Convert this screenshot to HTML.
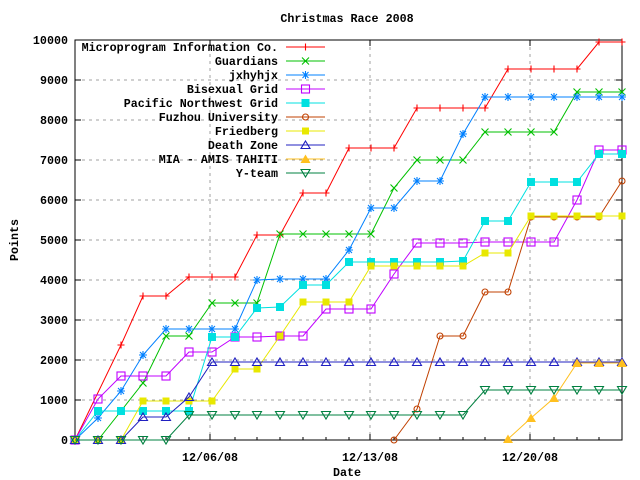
<!DOCTYPE html>
<html><head><meta charset="utf-8"><style>
html,body{margin:0;padding:0;background:#fff;}
svg{display:block;}
text{font-family:"Liberation Mono",monospace;font-size:11.7px;font-weight:bold;fill:#000;}
</style></head><body>
<svg width="640" height="480" viewBox="0 0 640 480" xmlns="http://www.w3.org/2000/svg">
<defs>
<marker id="mR" markerUnits="userSpaceOnUse" markerWidth="12" markerHeight="12" refX="6" refY="6" overflow="visible"><path d="M2.5,6H9.5M6,2.5V9.5" stroke="#ff0000" stroke-width="1.1" fill="none"/></marker>
<marker id="mG" markerUnits="userSpaceOnUse" markerWidth="12" markerHeight="12" refX="6" refY="6" overflow="visible"><path d="M2.5,2.5L9.5,9.5M2.5,9.5L9.5,2.5" stroke="#00c000" stroke-width="1.1" fill="none"/></marker>
<marker id="mB" markerUnits="userSpaceOnUse" markerWidth="12" markerHeight="12" refX="6" refY="6" overflow="visible"><path d="M2,6H10M6,2V10M3,3L9,9M3,9L9,3" stroke="#0080ff" stroke-width="1.1" fill="none"/></marker>
<marker id="mP" markerUnits="userSpaceOnUse" markerWidth="12" markerHeight="12" refX="6" refY="6" overflow="visible"><rect x="2" y="2" width="8" height="8" stroke="#c000ff" stroke-width="1.1" fill="none"/></marker>
<marker id="mC" markerUnits="userSpaceOnUse" markerWidth="12" markerHeight="12" refX="6" refY="6" overflow="visible"><rect x="2" y="2" width="8" height="8" fill="#00e0e0"/></marker>
<marker id="mO" markerUnits="userSpaceOnUse" markerWidth="12" markerHeight="12" refX="6" refY="6" overflow="visible"><circle cx="6" cy="6" r="3" stroke="#c04000" stroke-width="1.1" fill="none"/></marker>
<marker id="mY" markerUnits="userSpaceOnUse" markerWidth="12" markerHeight="12" refX="6" refY="6" overflow="visible"><rect x="2.5" y="2.5" width="7" height="7" fill="#e8e800"/></marker>
<marker id="mD" markerUnits="userSpaceOnUse" markerWidth="12" markerHeight="12" refX="6" refY="6" overflow="visible"><path d="M6,2L10.5,9.5H1.5Z" stroke="#2020c0" stroke-width="1.1" fill="none"/></marker>
<marker id="mA" markerUnits="userSpaceOnUse" markerWidth="12" markerHeight="12" refX="6" refY="6" overflow="visible"><path d="M6,1.5L11,10H1Z" fill="#ffc020"/></marker>
<marker id="mT" markerUnits="userSpaceOnUse" markerWidth="12" markerHeight="12" refX="6" refY="6" overflow="visible"><path d="M1.5,2.5H10.5L6,10Z" stroke="#008040" stroke-width="1.1" fill="none"/></marker>
</defs>

<g stroke="#a0a0a0" stroke-width="1" stroke-dasharray="3,4" fill="none">
<path d="M75,400H622M75,360H622M75,320H622M75,280H622M75,240H622M75,200H622M75,160H622M75,120H622M75,80H622"/>
<path d="M210,40V440M370,40V440M530,40V440"/>
</g>
<rect x="75" y="40" width="547" height="400" fill="none" stroke="#000" stroke-width="1"/>
<g stroke="#000" stroke-width="1">
<path d="M75,440h6M75,400h6M75,360h6M75,320h6M75,280h6M75,240h6M75,200h6M75,160h6M75,120h6M75,80h6M75,40h6"/>
<path d="M622,440h-6M622,400h-6M622,360h-6M622,320h-6M622,280h-6M622,240h-6M622,200h-6M622,160h-6M622,120h-6M622,80h-6M622,40h-6"/>
<path d="M210,440v-6M370,440v-6M530,440v-6M210,40v6M370,40v6M530,40v6"/>
<path d="M98,440v-3M121,440v-3M143,440v-3M166,440v-3M189,440v-3M235,440v-3M257,440v-3M280,440v-3M303,440v-3M326,440v-3M349,440v-3M394,440v-3M417,440v-3M440,440v-3M463,440v-3M485,440v-3M508,440v-3M554,440v-3M577,440v-3M599,440v-3"/>
</g>
<g text-anchor="end">
<text x="68" y="444">0</text><text x="68" y="404">1000</text><text x="68" y="364">2000</text><text x="68" y="324">3000</text><text x="68" y="284">4000</text><text x="68" y="244">5000</text><text x="68" y="204">6000</text><text x="68" y="164">7000</text><text x="68" y="124">8000</text><text x="68" y="84">9000</text><text x="68" y="44">10000</text>
</g>
<g text-anchor="middle">
<text x="210" y="461">12/06/08</text><text x="370" y="461">12/13/08</text><text x="530" y="461">12/20/08</text>
<text x="347" y="476">Date</text>
<text x="347" y="22">Christmas Race 2008</text>
<text x="18" y="240" transform="rotate(-90 18 240)">Points</text>
</g>

<g fill="none" stroke-width="1">
<polyline stroke="#ff0000" marker-start="url(#mR)" marker-mid="url(#mR)" marker-end="url(#mR)" points="75,440 121,345 143,296 166,296 189,277 212,277 235,277 257,235 280,235 303,193 326,193 349,148 371,148 394,148 417,108 440,108 463,108 485,108 508,69 531,69 554,69 577,69 599,42 622,42"/>
<polyline stroke="#00c000" marker-start="url(#mG)" marker-mid="url(#mG)" marker-end="url(#mG)" points="75,440 98,440 121,411 143,383 166,336 189,336 212,303 235,303 257,303 280,234 303,234 326,234 349,234 371,234 394,188 417,160 440,160 463,160 485,132 508,132 531,132 554,132 577,92 599,92 622,92"/>
<polyline stroke="#0080ff" marker-start="url(#mB)" marker-mid="url(#mB)" marker-end="url(#mB)" points="75,440 98,418 121,391 143,355 166,329 189,329 212,329 235,329 257,280 280,279 303,279 326,279 349,250 371,208 394,208 417,181 440,181 463,134 485,97 508,97 531,97 554,97 577,97 599,97 622,97"/>
<polyline stroke="#c000ff" marker-start="url(#mP)" marker-mid="url(#mP)" marker-end="url(#mP)" points="75,440 98,399 121,376 143,376 166,376 189,352 212,352 235,337 257,337 280,336 303,336 326,309 349,309 371,309 394,274 417,243 440,243 463,243 485,242 508,242 531,242 554,242 577,200 599,150 622,150"/>
<polyline stroke="#00e0e0" marker-start="url(#mC)" marker-mid="url(#mC)" marker-end="url(#mC)" points="75,440 98,411 121,411 143,411 166,411 189,411 212,337 235,337 257,308 280,307 303,285 326,285 349,262 371,262 394,262 417,262 440,262 463,261 485,221 508,221 531,182 554,182 577,182 599,154 622,154"/>
<polyline stroke="#c04000" marker-start="url(#mO)" marker-mid="url(#mO)" marker-end="url(#mO)" points="394,440 417,409 440,336 463,336 485,292 508,292 531,217 554,217 577,217 599,217 622,181"/>
<polyline stroke="#e8e800" marker-start="url(#mY)" marker-mid="url(#mY)" marker-end="url(#mY)" points="75,440 98,440 121,440 143,401 166,401 189,401 212,401 235,369 257,369 280,336 303,302 326,302 349,302 371,266 394,266 417,266 440,266 463,266 485,253 508,253 531,216 554,216 577,216 599,216 622,216"/>
<polyline stroke="#2020c0" marker-start="url(#mD)" marker-mid="url(#mD)" marker-end="url(#mD)" points="75,440 98,440 121,440 143,417 166,417 189,397 212,362 235,362 257,362 280,362 303,362 326,362 349,362 371,362 394,362 417,362 440,362 463,362 485,362 508,362 531,362 554,362 577,362 599,362 622,362"/>
<polyline stroke="#ffc020" marker-start="url(#mA)" marker-mid="url(#mA)" marker-end="url(#mA)" points="508,439 531,418 554,398 577,363 599,363 622,363"/>
<polyline stroke="#008040" marker-start="url(#mT)" marker-mid="url(#mT)" marker-end="url(#mT)" points="75,440 98,440 121,440 143,440 166,440 189,415 212,415 235,415 257,415 280,415 303,415 326,415 349,415 371,415 394,415 417,415 440,415 463,415 485,390 508,390 531,390 554,390 577,390 599,390 622,390"/>
</g>

<g text-anchor="end">
<text x="278" y="51">Microprogram Information Co.</text>
<text x="278" y="65">Guardians</text>
<text x="278" y="79">jxhyhjx</text>
<text x="278" y="93">Bisexual Grid</text>
<text x="278" y="107">Pacific Northwest Grid</text>
<text x="278" y="121">Fuzhou University</text>
<text x="278" y="135">Friedberg</text>
<text x="278" y="149">Death Zone</text>
<text x="278" y="163">MIA - AMIS TAHITI</text>
<text x="278" y="177">Y-team</text>
</g>
<g fill="none" stroke-width="1">
<polyline stroke="#ff0000" marker-mid="url(#mR)" points="286,47 305.5,47 325,47"/>
<polyline stroke="#00c000" marker-mid="url(#mG)" points="286,61 305.5,61 325,61"/>
<polyline stroke="#0080ff" marker-mid="url(#mB)" points="286,75 305.5,75 325,75"/>
<polyline stroke="#c000ff" marker-mid="url(#mP)" points="286,89 305.5,89 325,89"/>
<polyline stroke="#00e0e0" marker-mid="url(#mC)" points="286,103 305.5,103 325,103"/>
<polyline stroke="#c04000" marker-mid="url(#mO)" points="286,117 305.5,117 325,117"/>
<polyline stroke="#e8e800" marker-mid="url(#mY)" points="286,131 305.5,131 325,131"/>
<polyline stroke="#2020c0" marker-mid="url(#mD)" points="286,145 305.5,145 325,145"/>
<polyline stroke="#ffc020" marker-mid="url(#mA)" points="286,159 305.5,159 325,159"/>
<polyline stroke="#008040" marker-mid="url(#mT)" points="286,173 305.5,173 325,173"/>
</g>
</svg>
</body></html>
